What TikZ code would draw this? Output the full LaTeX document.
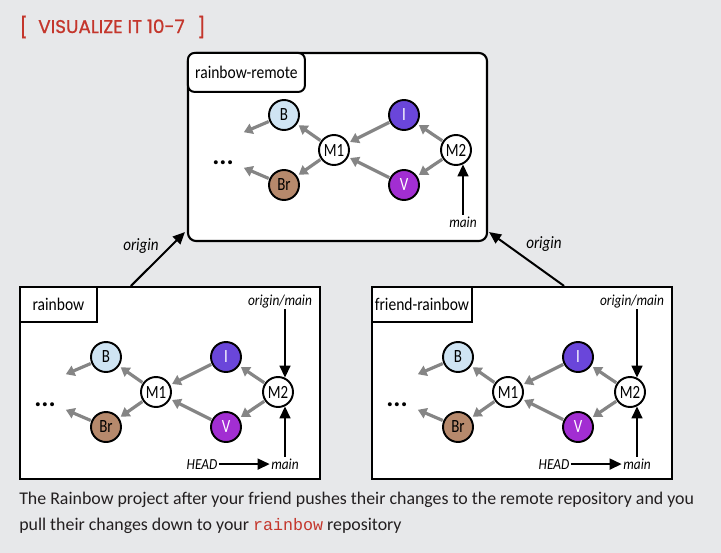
\documentclass[tikz,border=0pt]{standalone}
\usepackage{fontspec}
\setmainfont{Carlito}
\setmonofont{Liberation Mono}
\newfontfamily\condfont[FakeStretch=0.87]{Carlito}
\newfontfamily\commitfont[FakeStretch=0.8]{Carlito}
\newfontfamily\headfont[FakeBold=0.8]{Poppins}
\usetikzlibrary{arrows.meta}
\definecolor{bggray}{HTML}{E7E8EA}
\definecolor{titlered}{HTML}{C4362C}
\definecolor{captext}{HTML}{231F20}
\definecolor{arrowgray}{HTML}{858585}
\definecolor{bblue}{HTML}{CFE4F3}
\definecolor{brbrown}{HTML}{B6896C}
\definecolor{ipurple}{HTML}{6A46DA}
\definecolor{vpurple}{HTML}{A22ED2}
\tikzset{
  commit/.style={circle, draw, line width=1.45pt, minimum size=22.5pt, inner sep=0pt,
    font=\commitfont\fontsize{14}{16}\selectfont},
  parent/.style={draw=arrowgray, line width=2.4pt, -{Triangle[length=6.5pt,width=8pt]},
    shorten >=1.5pt, shorten <=0.5pt},
  refarrow/.style={line width=1.7pt, -{Triangle[length=9pt,width=8pt]}},
  refname/.style={font=\condfont\itshape\fontsize{11.5}{13}\selectfont, inner sep=1pt},
  repo/.style={draw, line width=1.6pt, fill=white},
  repolabel/.style={draw, line width=1.5pt, fill=white, anchor=north west, inner sep=0pt,
    font=\condfont\fontsize{13.4}{15}\selectfont}
}
\begin{document}
\begin{tikzpicture}[x=0.75pt, y=-0.75pt]
% background
\fill[bggray] (0,0) rectangle (721,553);
\useasboundingbox (0,0) rectangle (721,553);
% title
\node[text=titlered, inner sep=0pt, font=\headfont\fontsize{15}{17}\selectfont] (lbrack) at (23.7,27) {[};
\node[text=titlered, inner sep=0pt, anchor=base west, font=\headfont\fontsize{13.8}{15}\selectfont] (title) at (38,33) {VISUALIZE IT 10-7};
\node[text=titlered, inner sep=0pt, font=\headfont\fontsize{15}{17}\selectfont] (rbrack) at (201.5,27) {]};
% repositories
\node[repo, rounded corners=6pt, minimum width=224.25pt, minimum height=141pt] (remote) at (337.5,147) {};
\node[repolabel, rounded corners=5pt, minimum width=87.75pt, minimum height=29.25pt] (remotelabel) at (remote.north west) {rainbow-remote};
\node[repo, minimum width=225pt, minimum height=144pt] (rainbow) at (170,383) {};
\node[repolabel, minimum width=57.75pt, minimum height=26.25pt] (rainbowlabel) at (rainbow.north west) {rainbow};
\node[repo, minimum width=225pt, minimum height=144pt] (friend) at (522,383) {};
\node[repolabel, minimum width=75pt, minimum height=26.25pt] (friendlabel) at (friend.north west) {friend-rainbow};
% pushes to origin
\draw[refarrow, line width=1.5pt] ([xshift=84pt]rainbow.north west) -- ([shift={(-2,-10)}]remote.south west);
\draw[refarrow, line width=1.5pt] ([xshift=-81.75pt]friend.north east) -- ([shift={(1,-10)}]remote.south east);
\node[refname, anchor=base, font=\condfont\itshape\fontsize{13}{15}\selectfont] (lorigin) at (141,250) {origin};
\node[refname, anchor=base, font=\condfont\itshape\fontsize{13}{15}\selectfont] (forigin) at (544,248) {origin};
% commit graphs
\foreach \pre/\mx/\my in {t/334/150, l/156/392, f/508/392} {
  \begin{scope}[shift={(\mx,\my)}, name prefix=\pre-]
    \node[commit, fill=bblue] (B) at (-50,-35) {B};
    \node[commit, fill=brbrown] (Br) at (-50,35) {Br};
    \node[commit, fill=white] (M1) at (0,0) {M1};
    \node[commit, fill=ipurple, text=white] (I) at (70,-35) {I};
    \node[commit, fill=vpurple, text=white] (V) at (70,35) {V};
    \node[commit, fill=white] (M2) at (122,0) {M2};
    \node[anchor=base, inner sep=0pt, font=\bfseries\fontsize{20}{20}\selectfont] (dots) at (-111,14) {...};
    \coordinate (Bend) at (-92,-17);
    \coordinate (Brend) at (-92,17);
    \draw[parent] (B) -- (Bend);
    \draw[parent] (Br) -- (Brend);
    \draw[parent] (M1) -- (B);
    \draw[parent] (M1) -- (Br);
    \draw[parent] (I) -- (M1);
    \draw[parent] (V) -- (M1);
    \draw[parent] (M2) -- (I);
    \draw[parent] (M2) -- (V);
    \node[refname, anchor=base] (main) at (129,77) {main};
    \draw[refarrow] (main.north -| M2.-64) -- (M2.-64);
  \end{scope}
}
% local refs
\foreach \pre/\mx in {l/156, f/508} {
  \begin{scope}[shift={(\mx,392)}, name prefix=\pre-]
    \node[refname, anchor=base] (originmain) at (124,-87) {origin/main};
    \draw[refarrow] (originmain.south -| M2.64) -- (M2.64);
    \node[refname, anchor=base] (HEAD) at (46,77) {HEAD};
    \draw[refarrow] (HEAD.east) -- (HEAD.east -| main.west);
  \end{scope}
}
% caption
\node[anchor=base west, inner sep=0pt, text=captext, font=\fontsize{13.4}{16}\selectfont] (cap1) at (19,504)
  {The Rainbow project after your friend pushes their changes to the remote repository and you};
\node[anchor=base west, inner sep=0pt, text=captext, font=\fontsize{13.4}{16}\selectfont] (cap2) at (19,530)
  {pull their changes down to your {\ttfamily\fontsize{12.5}{16}\selectfont\color{titlered}rainbow} repository};
\end{tikzpicture}
\end{document}
